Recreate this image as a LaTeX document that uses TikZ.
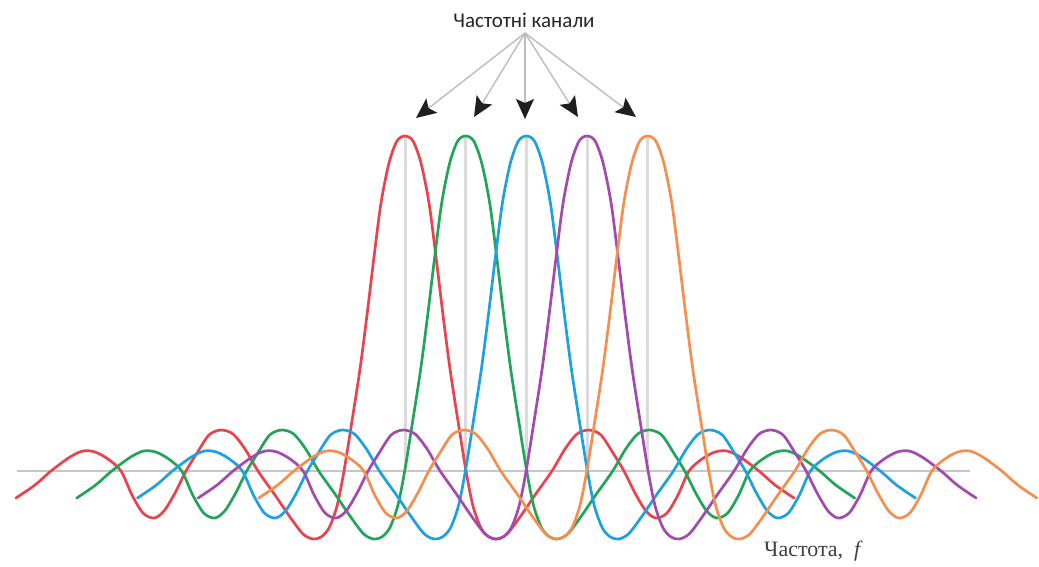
\documentclass[tikz,border=0pt]{standalone}
\usepackage{fontspec}
\setmainfont{Liberation Serif}
\newfontfamily\titlefont{Carlito}
\usetikzlibrary{arrows.meta}
\definecolor{cRed}{HTML}{E8434F}
\definecolor{cGreen}{HTML}{22A559}
\definecolor{cBlue}{HTML}{1DA1E0}
\definecolor{cPurple}{HTML}{A24AAE}
\definecolor{cOrange}{HTML}{F4904F}
\newcommand\sinccurve[2]{\draw[curve,#2,shift={(#1,471)}] plot[smooth,tension=0.5] coordinates {(-389,27) (-370,14) (-354,0) (-335,-14) (-322,-20) (-310,-19) (-297,-12) (-284,0) (-273,24) (-262,42) (-251,47) (-241,40) (-230,22) (-219,0) (-208,-18) (-196,-36) (-184,-41) (-172,-37) (-160,-22) (-147,0) (-130,24) (-115,46) (-102,63) (-92,68) (-84,66) (-76,57) (-68,35) (-61,0) (-53,-50) (-45,-102) (-38,-156) (-31,-214) (-24,-268) (-16,-308) (-8,-330) (0,-335) (8,-330) (16,-308) (24,-268) (31,-214) (38,-156) (45,-102) (53,-50) (61,0) (68,35) (76,57) (84,66) (92,68) (102,63) (115,46) (130,24) (147,0) (160,-22) (172,-37) (184,-41) (196,-36) (208,-18) (219,0) (230,22) (241,40) (251,47) (262,42) (273,24) (284,0) (297,-12) (310,-19) (322,-20) (335,-14) (354,0) (370,14) (389,27)};}
\begin{document}
\begin{tikzpicture}[x=1pt,y=-1pt,
  curve/.style={line width=2.7pt,line join=round,line cap=round},
  vline/.style={draw=black!14,line width=3pt},
  axisline/.style={draw=black!22,line width=1.6pt},
  chanarrow/.style={draw=black!26,line width=1.4pt,-{Stealth[length=20pt,width=18pt,inset=4pt,color=black!88]}}]
\fill[white] (0,0) rectangle (1039,566);
\useasboundingbox (0,0) rectangle (1039,566);
% axis
\coordinate (axL) at (17,471);
\coordinate (axR) at (970,471);
\draw[axisline] (axL) -- (axR);
% channel centre lines
\foreach \c [count=\i] in {405,465.7,526.4,587.1,647.8}{
  \coordinate (top\i) at (\c,137);
  \coordinate (bot\i) at (\c,471);
  \draw[vline] (top\i) -- (bot\i);
}
% curves
\sinccurve{405}{cRed}
\sinccurve{465.7}{cGreen}
\sinccurve{526.4}{cBlue}
\sinccurve{587.1}{cPurple}
\sinccurve{647.8}{cOrange}
% title and arrows
\node[font=\titlefont\fontsize{21}{22}\selectfont,text=black!85,inner sep=0pt] (title) at (524,20) {Частотні канали};
\coordinate (src) at (525,33);
\coordinate (t1) at (416,118);
\coordinate (t2) at (474,117);
\coordinate (t3) at (525,119);
\coordinate (t4) at (578,117);
\coordinate (t5) at (636,117);
\foreach \i in {1,...,5}{\draw[chanarrow] (src) -- (t\i);}
% axis label
\node[anchor=base west,inner sep=0pt,font=\fontsize{22}{24}\selectfont,text=black!75] (flabel) at (764,556) {Частота,\ \ \textit{f}};
\end{tikzpicture}
\end{document}
